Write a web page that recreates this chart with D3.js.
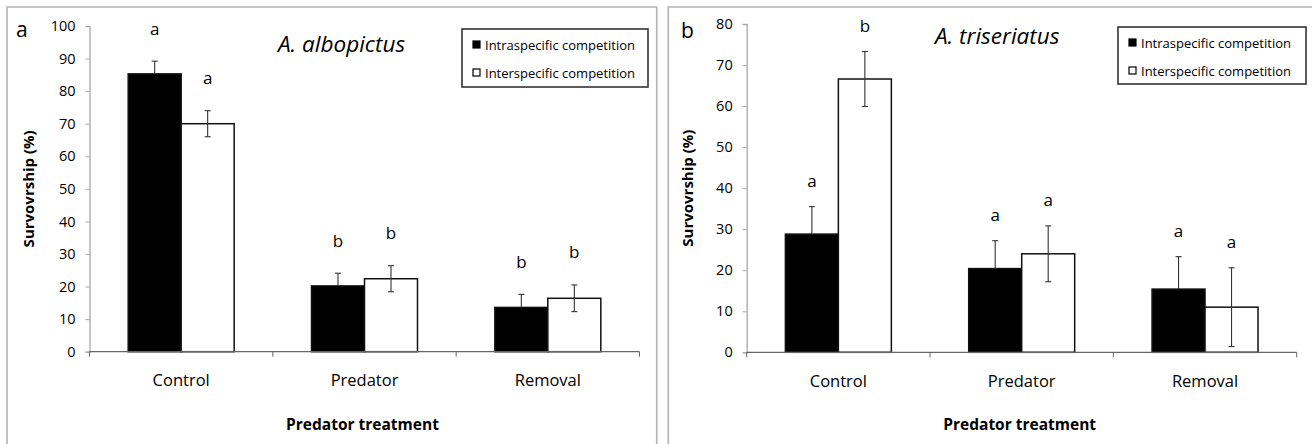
<!DOCTYPE html>
<html>
<head>
<meta charset="utf-8">
<script src="https://cdn.jsdelivr.net/npm/d3@7"></script>
<style>
  body { margin: 0; background: #fff; }
  svg text { font-family: "Open Sans", "DejaVu Sans", sans-serif; fill: #000; }
</style>
</head>
<body>
<div id="graph"></div>
<script>
// data
var treatments = ["Control", "Predator", "Removal"];
var series = ["Intraspecific competition", "Interspecific competition"];

// A. albopictus
var albIntra = [85.3, 20.2, 13.6];
var albInter = [70.0, 22.4, 16.4];
var albIntraSE = [3.9, 3.9, 4.0];
var albInterSE = [4.0, 4.0, 4.1];
var albIntraLetters = ["a", "b", "b"];
var albInterLetters = ["a", "b", "b"];
var albTicks = [0, 10, 20, 30, 40, 50, 60, 70, 80, 90, 100];

// A. triseriatus
var triIntra = [28.8, 20.4, 15.4];
var triInter = [66.6, 24.0, 11.0];
var triIntraSE = [6.7, 6.8, 7.9];
var triInterSE = [6.7, 6.8, 9.6];
var triIntraLetters = ["a", "a", "a"];
var triInterLetters = ["b", "a", "a"];
var triTicks = [0, 10, 20, 30, 40, 50, 60, 70, 80];

var svg = d3.select("#graph")
    .append("svg")
    .attr("width", 1312)
    .attr("height", 444);

function drawPanel(p) {
    var g = svg.append("g");

    // panel frame (open at the bottom)
    g.append("path")
        .attr("d", "M" + p.frame[0] + ",444V7H" + p.frame[1] + (p.frame[2] ? "V444" : ""))
        .attr("fill", "none")
        .attr("stroke", "#b4b4b4")
        .attr("stroke-width", 1.6);

    var x0 = d3.scaleBand()
        .domain(treatments)
        .range([p.left, p.left + 550]);
    var x1 = d3.scaleBand()
        .domain(series)
        .range([0, x0.bandwidth()])
        .paddingOuter(0.73);
    var y = d3.scaleLinear()
        .domain([0, p.max])
        .range([p.bottom, p.top]);

    // y axis
    var ya = g.append("g")
        .attr("transform", "translate(" + p.left + ",0)")
        .call(d3.axisLeft(y).tickValues(p.ticks).tickSize(4).tickPadding(10));
    ya.select(".domain").attr("stroke", "#a8a8a8").attr("stroke-width", 1.3);
    ya.selectAll(".tick line").attr("stroke", "#a8a8a8");
    ya.selectAll(".tick text").style("font-size", "14.5px").attr("fill", "#111");

    var rows = treatments.map(function(t, i) {
        return [
            {t: t, s: series[0], v: p.intra[i], se: p.intraSE[i], l: p.intraL[i]},
            {t: t, s: series[1], v: p.inter[i], se: p.interSE[i], l: p.interL[i]}
        ];
    });
    var flat = d3.merge(rows);

    // bars
    g.selectAll("rect.bar")
        .data(flat)
        .enter()
        .append("rect")
        .attr("class", "bar")
        .attr("x", function(d) { return x0(d.t) + x1(d.s); })
        .attr("y", function(d) { return y(d.v); })
        .attr("width", x1.bandwidth())
        .attr("height", function(d) { return y(0) - y(d.v); })
        .attr("fill", function(d) { return d.s == series[0] ? "#000" : "#fff"; })
        .attr("stroke", "#111")
        .attr("stroke-width", 1.5);

    // error bars (the lower half vanishes inside the black bars)
    var eb = g.selectAll("g.err")
        .data(flat)
        .enter()
        .append("g")
        .attr("class", "err")
        .attr("transform", function(d) { return "translate(" + (x0(d.t) + x1(d.s) + x1.bandwidth() / 2) + ",0)"; })
        .attr("stroke", "#333")
        .attr("stroke-width", 1.1);
    eb.append("line")
        .attr("y1", function(d) { return d.s == series[0] ? y(d.v) : y(d.v - d.se); })
        .attr("y2", function(d) { return y(d.v + d.se); });
    eb.append("line")
        .attr("x1", -3).attr("x2", 3)
        .attr("y1", function(d) { return y(d.v + d.se); })
        .attr("y2", function(d) { return y(d.v + d.se); });
    eb.filter(function(d) { return d.s == series[1]; })
        .append("line")
        .attr("x1", -3).attr("x2", 3)
        .attr("y1", function(d) { return y(d.v - d.se); })
        .attr("y2", function(d) { return y(d.v - d.se); });

    // significance letters
    g.selectAll("text.sig")
        .data(flat)
        .enter()
        .append("text")
        .attr("class", "sig")
        .attr("x", function(d) { return x0(d.t) + x1(d.s) + x1.bandwidth() / 2; })
        .attr("y", function(d) { return y(d.v + d.se) - p.letterGap; })
        .attr("text-anchor", "middle")
        .attr("dominant-baseline", "central")
        .style("font-size", "17px")
        .text(function(d) { return d.l; });

    // x axis
    var xa = g.append("g")
        .attr("transform", "translate(0," + p.bottom + ")")
        .call(d3.axisBottom(x0).tickSize(0).tickPadding(23));
    xa.select(".domain").remove();
    xa.selectAll(".tick text").style("font-size", "16.5px").attr("fill", "#111");
    xa.append("line")
        .attr("x1", p.left).attr("x2", p.left + 550)
        .attr("stroke", "#666").attr("stroke-width", 1.3);
    xa.selectAll("line.bt")
        .data(treatments.map(function(t) { return x0(t); }).concat([p.left + 550]))
        .enter()
        .append("line")
        .attr("class", "bt")
        .attr("x1", function(d) { return d; })
        .attr("x2", function(d) { return d; })
        .attr("y2", 5)
        .attr("stroke", "#666");

    // axis titles
    g.append("text")
        .attr("transform", "translate(" + p.ylabX + "," + ((p.top + p.bottom) / 2) + ") rotate(-90)")
        .attr("text-anchor", "middle")
        .attr("dominant-baseline", "central")
        .style("font-size", "15px")
        .style("font-weight", "bold")
        .text("Survovrship (%)");
    g.append("text")
        .attr("x", p.left + 273)
        .attr("y", 424)
        .attr("text-anchor", "middle")
        .attr("dominant-baseline", "central")
        .style("font-size", "15.5px")
        .style("font-weight", "bold")
        .text("Predator treatment");

    // panel letter and species
    g.append("text")
        .attr("x", p.letterX)
        .attr("y", p.letterY)
        .style("font-size", "21px")
        .text(p.letter);
    g.append("text")
        .attr("x", p.titleX)
        .attr("y", p.titleY)
        .attr("dominant-baseline", "central")
        .style("font-size", "22.5px")
        .style("font-style", "italic")
        .text(p.species);

    // legend
    var lg = g.append("g").attr("transform", "translate(" + p.legend[0] + "," + p.legend[1] + ")");
    lg.append("rect")
        .attr("width", p.legend[2])
        .attr("height", p.legend[3])
        .attr("fill", "#fff")
        .attr("stroke", "#333")
        .attr("stroke-width", 1.6);
    series.forEach(function(s, i) {
        lg.append("rect")
            .attr("x", 11)
            .attr("y", 12 + i * 28)
            .attr("width", 7)
            .attr("height", 7)
            .attr("fill", i == 0 ? "#000" : "#fff")
            .attr("stroke", "#000")
            .attr("stroke-width", 1.2);
        lg.append("text")
            .attr("x", 23)
            .attr("y", 15.5 + i * 28)
            .attr("dominant-baseline", "central")
            .style("font-size", "13px")
            .text(s);
    });
}

drawPanel({
    frame: [7, 656.7, true],
    left: 89.5, top: 26, bottom: 351.7, max: 100, ticks: albTicks,
    intra: albIntra, inter: albInter, intraSE: albIntraSE, interSE: albInterSE,
    intraL: albIntraLetters, interL: albInterLetters, letterGap: 33,
    ylabX: 28, letter: "a", letterX: 16, letterY: 37,
    species: "A. albopictus", titleX: 278, titleY: 43,
    legend: [462, 29, 186, 58]
});

drawPanel({
    frame: [668.3, 1312, false],
    left: 746.7, top: 24, bottom: 352.3, max: 80, ticks: triTicks,
    intra: triIntra, inter: triInter, intraSE: triIntraSE, interSE: triInterSE,
    intraL: triIntraLetters, interL: triInterLetters, letterGap: 26,
    ylabX: 687, letter: "b", letterX: 681, letterY: 38,
    species: "A. triseriatus", titleX: 935, titleY: 35,
    legend: [1118, 27, 188, 57]
});
</script>
</body>
</html>
